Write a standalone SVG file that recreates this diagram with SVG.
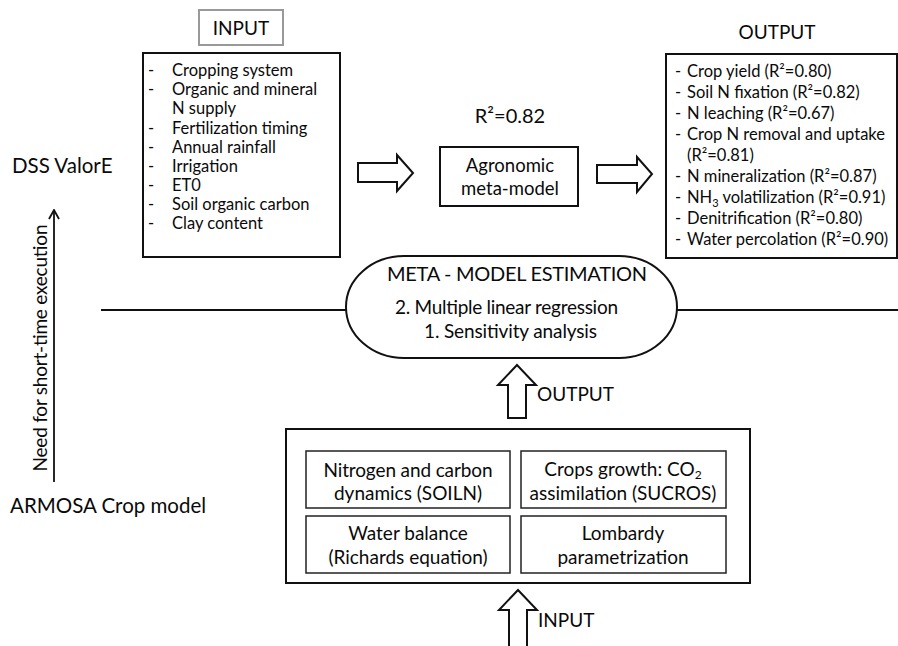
<svg xmlns="http://www.w3.org/2000/svg" width="898" height="646" viewBox="0 0 898 646">
  <defs>
    <style>
      text { font-family: Lato, "Liberation Sans", sans-serif; fill: #0a0a0a; }
      .lbl { font-size: 19px; }
      .side { font-size: 20.5px; }
      .item { font-size: 16.5px; }
      .mid { text-anchor: middle; }
      .box { fill: #fff; stroke: #111; stroke-width: 2; }
      .thin { fill: #fff; stroke: #222; stroke-width: 1.5; }
      .blk { fill: #fff; stroke: #111; stroke-width: 2; stroke-linejoin: miter; }
      .line { fill: none; stroke: #111; stroke-width: 2; }
    </style>
    <marker id="openHead" markerWidth="12" markerHeight="12" refX="11" refY="6" orient="auto" markerUnits="userSpaceOnUse" viewBox="0 0 12 12">
      <polyline points="2,1 11,6 2,11" fill="none" stroke="#111" stroke-width="1.8"/>
    </marker>
  </defs>

  <!-- side labels -->
  <g id="label-dss">
    <text class="side" x="12" y="173">DSS ValorE</text>
  </g>
  <g id="label-armosa">
    <text class="side" x="10" y="513">ARMOSA Crop model</text>
  </g>
  <g id="label-need">
    <text class="lbl mid" transform="translate(47,348) rotate(-90)" textLength="247">Need for short-time execution</text>
  </g>

  <!-- input header -->
  <g id="input-header">
    <rect x="199" y="10" width="84" height="35" fill="#fff" stroke="#999" stroke-width="2"/>
    <text class="lbl mid" x="241" y="35">INPUT</text>
  </g>

  <!-- input variables -->
  <g id="input-list">
    <rect class="box" x="143" y="53" width="197" height="204"/>
    <g class="item">
      <text x="148" y="76">-</text><text x="172" y="76">Cropping system</text>
      <text x="148" y="95">-</text><text x="172" y="95">Organic and mineral</text>
      <text x="172" y="114">N supply</text>
      <text x="148" y="133.5">-</text><text x="172" y="133.5">Fertilization timing</text>
      <text x="148" y="152.5">-</text><text x="172" y="152.5">Annual rainfall</text>
      <text x="148" y="171.5">-</text><text x="172" y="171.5">Irrigation</text>
      <text x="148" y="191">-</text><text x="172" y="191">ET0</text>
      <text x="148" y="210">-</text><text x="172" y="210">Soil organic carbon</text>
      <text x="148" y="229">-</text><text x="172" y="229">Clay content</text>
    </g>
  </g>

  <!-- meta-model -->
  <g id="r2-label">
    <text class="lbl mid" x="510" y="123" style="font-size:20px">R²=0.82</text>
  </g>
  <g id="meta-model">
    <rect class="box" x="440" y="147" width="138" height="59"/>
    <text class="lbl mid" x="510" y="172" style="font-size:18.5px">Agronomic</text>
    <text class="lbl mid" x="510" y="195" style="font-size:18.5px">meta-model</text>
  </g>

  <!-- output header and list -->
  <g id="output-header">
    <text class="lbl mid" x="777" y="39">OUTPUT</text>
  </g>
  <g id="output-list">
    <rect class="box" x="666" y="54" width="231" height="204"/>
    <g class="item">
      <text x="675" y="77">-</text><text x="687" y="77">Crop yield (R²=0.80)</text>
      <text x="675" y="98">-</text><text x="687" y="98">Soil N fixation (R²=0.82)</text>
      <text x="675" y="119">-</text><text x="687" y="119">N leaching (R²=0.67)</text>
      <text x="675" y="140">-</text><text x="687" y="140">Crop N removal and uptake</text>
      <text x="687" y="161">(R²=0.81)</text>
      <text x="675" y="182">-</text><text x="687" y="182">N mineralization (R²=0.87)</text>
      <text x="675" y="203">-</text><text x="687" y="203">NH<tspan dy="4" font-size="11">3</tspan><tspan dy="-4"> volatilization (R²=0.91)</tspan></text>
      <text x="675" y="224">-</text><text x="687" y="224">Denitrification (R²=0.80)</text>
      <text x="675" y="245">-</text><text x="687" y="245">Water percolation (R²=0.90)</text>
    </g>
  </g>

  <!-- estimation step -->
  <g id="estimation">
    <rect class="box" x="346" y="256" width="331" height="102" rx="58" ry="51"/>
    <text class="lbl mid" x="517" y="281" style="font-size:20px" textLength="260">META - MODEL ESTIMATION</text>
    <text class="lbl mid" x="506.5" y="314" textLength="223">2. Multiple linear regression</text>
    <text class="lbl mid" x="510.5" y="338" textLength="173">1. Sensitivity analysis</text>
  </g>

  <!-- crop model -->
  <g id="crop-model">
    <rect class="box" x="286" y="429" width="464" height="154"/>
  </g>
  <g id="module-soiln">
    <rect class="thin" x="306" y="451" width="204" height="57"/>
    <text class="lbl mid" x="408" y="477" textLength="169">Nitrogen and carbon</text>
    <text class="lbl mid" x="408" y="500">dynamics (SOILN)</text>
  </g>
  <g id="module-sucros">
    <rect class="thin" x="521" y="451" width="205" height="57"/>
    <text class="lbl mid" x="623" y="476">Crops growth: CO<tspan dy="3" font-size="12">2</tspan></text>
    <text class="lbl mid" x="623" y="500">assimilation (SUCROS)</text>
  </g>
  <g id="module-water">
    <rect class="thin" x="306" y="516" width="204" height="57"/>
    <text class="lbl mid" x="408" y="540">Water balance</text>
    <text class="lbl mid" x="408" y="564">(Richards equation)</text>
  </g>
  <g id="module-lombardy">
    <rect class="thin" x="521" y="516" width="205" height="57"/>
    <text class="lbl mid" x="623" y="540">Lombardy</text>
    <text class="lbl mid" x="623" y="564">parametrization</text>
  </g>

  <!-- flow labels -->
  <g id="label-output-flow">
    <text class="lbl" x="537" y="401">OUTPUT</text>
  </g>
  <g id="label-input-flow">
    <text class="lbl" x="538" y="627">INPUT</text>
  </g>

  <!-- connectors -->
  <g id="connectors">
    <line class="line" x1="101" y1="310" x2="346" y2="310"/>
    <line class="line" x1="677" y1="310" x2="898" y2="310"/>
    <line x1="54" y1="482" x2="54" y2="210" stroke="#111" stroke-width="1.8" marker-end="url(#openHead)"/>
    <polygon class="blk" points="358,163 397,163 397,155 413,173 397,191 397,182 358,182"/>
    <polygon class="blk" points="597,165 637,165 637,157 652,174 637,192 637,183 597,183"/>
    <polygon class="blk" points="508,418 508,385 498,385 517,365 536,385 526,385 526,418"/>
    <polygon class="blk" points="509,650 509,610 499,610 518,590 537,610 527,610 527,650"/>
  </g>
</svg>
